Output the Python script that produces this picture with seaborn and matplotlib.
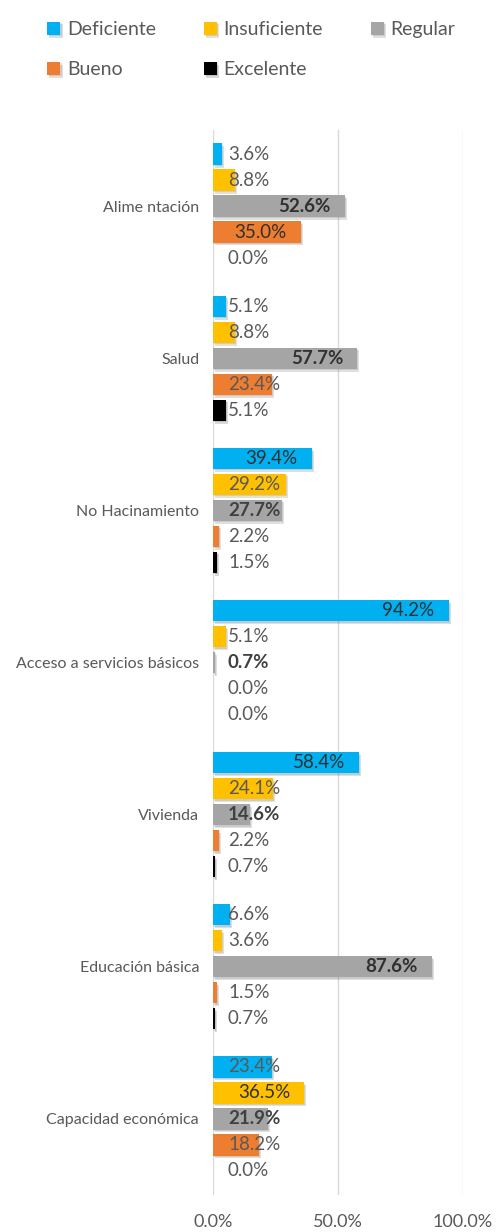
import matplotlib
matplotlib.use("Agg")
import matplotlib.pyplot as plt
import matplotlib.patheffects as pe
import seaborn as sns
import pandas as pd


categorias = ["Alime ntación", "Salud", "No Hacinamiento", "Acceso a servicios básicos",
              "Vivienda", "Educación básica", "Capacidad económica"]
niveles = ["Deficiente", "Insuficiente", "Regular", "Bueno", "Excelente"]
colores = ["#00B0F0", "#FFC000", "#A5A5A5", "#ED7D31", "#000000"]

# porcentajes por nivel, en el orden de categorias
deficiente = [3.6, 5.1, 39.4, 94.2, 58.4, 6.6, 23.4]
insuficiente = [8.8, 8.8, 29.2, 5.1, 24.1, 3.6, 36.5]
regular = [52.6, 57.7, 27.7, 0.7, 14.6, 87.6, 21.9]
bueno = [35.0, 23.4, 2.2, 0.0, 2.2, 1.5, 18.2]
excelente = [0.0, 5.1, 1.5, 0.0, 0.7, 0.7, 0.0]

ticks = [0, 50, 100]

rows = []
for nivel, valores in zip(niveles, [deficiente, insuficiente, regular, bueno, excelente]):
    for cat, v in zip(categorias, valores):
        rows.append({"categoria": cat, "nivel": nivel, "valor": v})
df = pd.DataFrame(rows)

sns.set_style("white")
plt.rcParams["font.family"] = ["Lato", "DejaVu Sans"]

fig = plt.figure(figsize=(4.99, 12.32), dpi=100)
ax = fig.add_axes([213 / 499, 1 - 1195 / 1232, 250 / 499, 1065 / 1232])

sns.barplot(data=df, x="valor", y="categoria", hue="nivel", order=categorias,
            hue_order=niveles, palette=colores, width=0.854, gap=0.18,
            orient="h", ax=ax, saturation=1, legend=True, linewidth=0, edgecolor="none")

# sombra suave tipo excel
for bar in ax.patches:
    bar.set_path_effects([pe.SimplePatchShadow(offset=(1.5, -2), alpha=0.15),
                          pe.SimplePatchShadow(offset=(0.8, -1), alpha=0.12),
                          pe.Normal()])

# etiquetas de datos
for nivel, cont in zip(niveles, ax.containers):
    for bar in cont:
        v = bar.get_width()
        yc = bar.get_y() + bar.get_height() / 2
        peso = "bold" if nivel == "Regular" else "normal"
        if v >= 31:
            ax.text(v - 5.6, yc, f"{v:.1f}%", ha="right", va="center", fontsize=13.5,
                    color="#303030", fontweight=peso)
        else:
            ax.text(6, yc, f"{v:.1f}%", ha="left", va="center", fontsize=13.5,
                    color="#404040" if peso == "bold" else "#595959", fontweight=peso)

ax.set_xlim(0, 100)
ax.set_xticks(ticks)
ax.set_xticklabels([f"{t:.1f}%" for t in ticks])
ax.grid(axis="x", color="#D9D9D9", linewidth=1)
ax.set_axisbelow(True)
for s in ax.spines.values():
    s.set_visible(False)
ax.tick_params(axis="x", length=0, pad=14, labelsize=13, labelcolor="#595959")
ax.tick_params(axis="y", length=0, pad=10, labelsize=11.5, labelcolor="#595959")
ax.set_xlabel("")
ax.set_ylabel("")

handles, labels = ax.get_legend_handles_labels()
ax.get_legend().remove()
orden = [0, 3, 1, 4, 2]
leg = fig.legend([handles[i] for i in orden], [labels[i] for i in orden],
                 loc="upper left", bbox_to_anchor=(0.095, 0.983), ncol=3, frameon=False,
                 fontsize=14, handlelength=0.67, handleheight=0.67, handletextpad=0.35,
                 columnspacing=2.45, labelspacing=1.2, borderpad=0, borderaxespad=0)
for t in leg.get_texts():
    t.set_color("#595959")

fig.savefig("out.png", dpi=100)
